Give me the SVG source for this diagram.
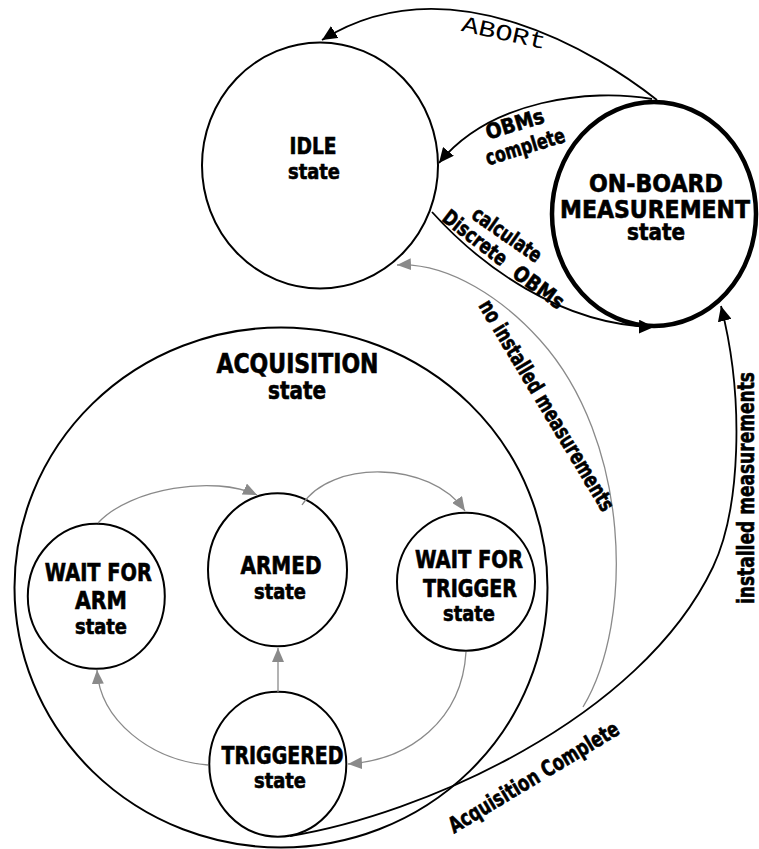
<svg xmlns="http://www.w3.org/2000/svg" width="759" height="849" viewBox="0 0 759 849">
<style>
.bg{fill:#fff}
.node{fill:none;stroke:#000;stroke-width:2}
.thick{stroke-width:4.5}
.t{font-family:"Liberation Sans Narrow","DejaVu Sans Condensed","Liberation Sans",sans-serif;font-stretch:condensed;font-weight:bold;fill:#000;stroke:#000;stroke-width:0.6;text-anchor:middle}
.mono{font-family:"Liberation Mono","DejaVu Sans Mono",monospace;fill:#000;text-anchor:middle}
.edge{fill:none;stroke:#000;stroke-width:1.8}
.gedge{fill:none;stroke:#8a8a8a;stroke-width:1.3}
</style>
<defs>
<marker id="ab" markerUnits="userSpaceOnUse" viewBox="0 0 15 14" markerWidth="15" markerHeight="14" refX="15" refY="7" orient="auto"><path d="M0,0 L15,7 L0,14 Z" fill="#000"/></marker>
<marker id="ag" markerUnits="userSpaceOnUse" viewBox="0 0 14 12" markerWidth="14" markerHeight="12" refX="14" refY="6" orient="auto"><path d="M0,0 L14,6 L0,12 Z" fill="#8a8a8a"/></marker>
</defs>
<rect class="bg" x="0" y="0" width="759" height="849"/>

<g id="acquisition">
<ellipse class="node" cx="281" cy="587.5" rx="266.5" ry="260"/>
<text class="t" x="297.5" y="373" font-size="26" textLength="162" lengthAdjust="spacingAndGlyphs">ACQUISITION</text>
<text class="t" x="297" y="399" font-size="24" textLength="58" lengthAdjust="spacingAndGlyphs">state</text>
</g>

<g id="idle">
<ellipse class="node" cx="320" cy="165.5" rx="118" ry="123"/>
<text class="t" x="313" y="153.5" font-size="23.5" textLength="47" lengthAdjust="spacingAndGlyphs">IDLE</text>
<text class="t" x="314" y="179" font-size="22" textLength="52" lengthAdjust="spacingAndGlyphs">state</text>
</g>

<g id="onboard">
<ellipse class="node thick" cx="654" cy="214" rx="102" ry="112"/>
<text class="t" x="656" y="192" font-size="25" textLength="134" lengthAdjust="spacingAndGlyphs">ON-BOARD</text>
<text class="t" x="655" y="217.5" font-size="25" textLength="190" lengthAdjust="spacingAndGlyphs">MEASUREMENT</text>
<text class="t" x="656" y="240" font-size="23" textLength="58" lengthAdjust="spacingAndGlyphs">state</text>
</g>

<g id="waitarm">
<ellipse class="node" cx="96.3" cy="596.3" rx="68.5" ry="72.5"/>
<text class="t" x="98.3" y="580.5" font-size="24" textLength="107" lengthAdjust="spacingAndGlyphs">WAIT FOR</text>
<text class="t" x="101" y="609" font-size="24" textLength="52" lengthAdjust="spacingAndGlyphs">ARM</text>
<text class="t" x="101" y="634" font-size="22" textLength="52" lengthAdjust="spacingAndGlyphs">state</text>
</g>

<g id="armed">
<ellipse class="node" cx="277.5" cy="569.8" rx="69.5" ry="76.5"/>
<text class="t" x="281" y="574" font-size="24" textLength="81" lengthAdjust="spacingAndGlyphs">ARMED</text>
<text class="t" x="280" y="599.3" font-size="22" textLength="52" lengthAdjust="spacingAndGlyphs">state</text>
</g>

<g id="waittrigger">
<ellipse class="node" cx="466" cy="581.7" rx="69" ry="69"/>
<text class="t" x="469" y="568.3" font-size="24" textLength="108" lengthAdjust="spacingAndGlyphs">WAIT FOR</text>
<text class="t" x="470" y="596.7" font-size="24" textLength="94" lengthAdjust="spacingAndGlyphs">TRIGGER</text>
<text class="t" x="469" y="620.7" font-size="22" textLength="52" lengthAdjust="spacingAndGlyphs">state</text>
</g>

<g id="triggered">
<ellipse class="node" cx="277.8" cy="764.2" rx="68.5" ry="72.5"/>
<text class="t" x="282.5" y="764" font-size="24" textLength="122" lengthAdjust="spacingAndGlyphs">TRIGGERED</text>
<text class="t" x="280" y="787.7" font-size="22" textLength="52" lengthAdjust="spacingAndGlyphs">state</text>
</g>

<g id="connectors">
<path class="edge" d="M657,100 C600,55 450,-40 322,40" marker-end="url(#ab)"/>
<path class="edge" d="M652,99 C590,88 490,100 439,163" marker-end="url(#ab)"/>
<path class="edge" d="M432,212 C480,265 560,325 654,327" marker-end="url(#ab)"/>
<path class="edge" d="M290,836 C420,815 640,720 713,567 C740,510 745,400 721,306" marker-end="url(#ab)"/>
<path class="gedge" d="M583,707 C635,620 630,440 540,340 C505,301 450,262 397,265" marker-end="url(#ag)"/>
<path class="gedge" d="M98,523 C130,488 215,475 257,495" marker-end="url(#ag)"/>
<path class="gedge" d="M302,505 C330,460 430,460 465,511" marker-end="url(#ag)"/>
<path class="gedge" d="M466,652 C462,720 410,760 348,764" marker-end="url(#ag)"/>
<path class="gedge" d="M278,692 L278,648" marker-end="url(#ag)"/>
<path class="gedge" d="M208,765 C150,760 100,720 97,670" marker-end="url(#ag)"/>

<text class="mono" x="502.4" y="40" font-size="23" textLength="86" lengthAdjust="spacingAndGlyphs" transform="rotate(12.4 502.4 40)">ABORt</text>
<text class="t" x="517" y="131" font-size="21" textLength="60" lengthAdjust="spacingAndGlyphs" transform="rotate(-17 517 131)">OBMs</text>
<text class="t" x="527.3" y="153.5" font-size="21" textLength="82" lengthAdjust="spacingAndGlyphs" transform="rotate(-17 527.3 153.5)">complete</text>
<text class="t" x="503" y="240.5" font-size="21" textLength="80" lengthAdjust="spacingAndGlyphs" transform="rotate(35 503 240.5)">calculate</text>
<text class="t" x="470.7" y="243.5" font-size="21" textLength="76" lengthAdjust="spacingAndGlyphs" transform="rotate(38 470.7 243.5)">Discrete</text>
<text class="t" x="534.5" y="293" font-size="21" textLength="58" lengthAdjust="spacingAndGlyphs" transform="rotate(36 534.5 293)">OBMs</text>
<text class="t" x="540.3" y="409.3" font-size="22" textLength="242" lengthAdjust="spacingAndGlyphs" transform="rotate(59 540.3 409.3)">no installed measurements</text>
<text class="t" x="754" y="488" font-size="23" textLength="232" lengthAdjust="spacingAndGlyphs" transform="rotate(-90 754 488)">installed measurements</text>
<text class="t" x="537.5" y="783.5" font-size="22" textLength="195" lengthAdjust="spacingAndGlyphs" transform="rotate(-31 537.5 783.5)">Acquisition Complete</text>
</g>
</svg>
